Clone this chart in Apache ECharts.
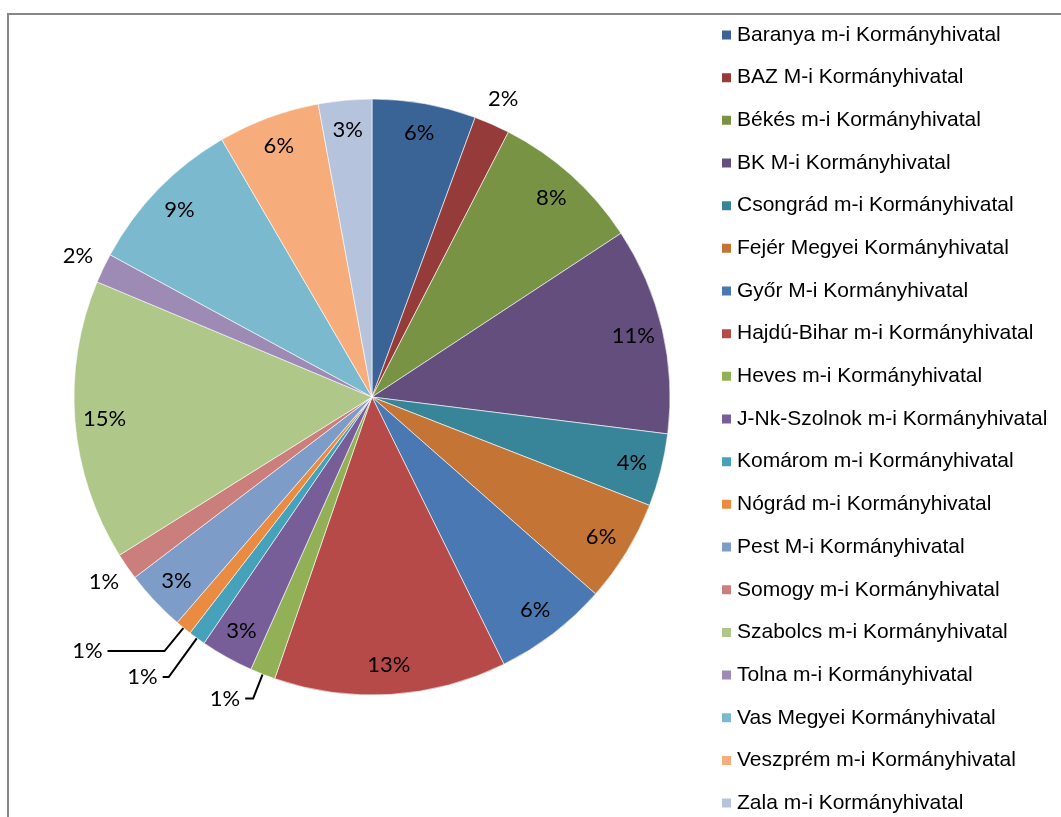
<!DOCTYPE html>
<html>
<head>
<meta charset="utf-8">
<script src="https://cdn.jsdelivr.net/npm/echarts@6/dist/echarts.min.js"></script>
<style>
  html, body { margin: 0; padding: 0; background: #fff; }
  #main { width: 1061px; height: 817px; }
</style>
</head>
<body>
<div id="main"></div>
<script>
'use strict'
// kormányhivatalok megoszlása - pie chart

var names = ['Baranya m-i Kormányhivatal', 'BAZ M-i Kormányhivatal', 'Békés m-i Kormányhivatal',
    'BK M-i Kormányhivatal', 'Csongrád m-i Kormányhivatal', 'Fejér Megyei Kormányhivatal',
    'Győr M-i Kormányhivatal', 'Hajdú-Bihar m-i Kormányhivatal', 'Heves m-i Kormányhivatal',
    'J-Nk-Szolnok m-i Kormányhivatal', 'Komárom m-i Kormányhivatal', 'Nógrád m-i Kormányhivatal',
    'Pest M-i Kormányhivatal', 'Somogy m-i Kormányhivatal', 'Szabolcs m-i Kormányhivatal',
    'Tolna m-i Kormányhivatal', 'Vas Megyei Kormányhivatal', 'Veszprém m-i Kormányhivatal',
    'Zala m-i Kormányhivatal'];

var values = [5.63, 1.94, 8.18, 11.24, 3.95, 5.57, 6.21, 12.6, 1.37, 2.87,
    0.93, 0.88, 3.31, 1.45, 15.22, 1.61, 8.68, 5.52, 2.89];

var colors = ['#3B6496', '#953C3B', '#789343', '#634E7E', '#38859A', '#C47535',
    '#4A78B2', '#B64A48', '#92B055', '#785E99', '#46A2BA', '#E98C42',
    '#7E9CC8', '#CB7F7D', '#AFC788', '#9D8BB5', '#7BBACE', '#F7AC7B', '#B6C3DD'];

// labels just outside the rim (no leader line)
var rimLabels = ['BAZ M-i Kormányhivatal', 'Tolna m-i Kormányhivatal', 'Somogy m-i Kormányhivatal'];

// labels with leader lines: [length, length2]
var leaderLabels = {
    'Heves m-i Kormányhivatal': [26, 8],
    'Komárom m-i Kormányhivatal': [48, 6],
    'Nógrád m-i Kormányhivatal': [30, 57]
};

var center = [372, 397];
var R = 298;
var labelFont = { fontFamily: 'Lato', fontSize: 22, color: '#000' };

function pct(p) {
    return Math.round(p.percent) + '%';
}

var mainData = names.map(function (n, i) {
    var item = { name: n, value: values[i], itemStyle: { color: colors[i] } };
    if (leaderLabels[n]) {
        item.label = { show: true, position: 'outside' };
        item.labelLine = { show: true, length: leaderLabels[n][0], length2: leaderLabels[n][1] };
    }
    return item;
});

var innerData = names.map(function (n, i) {
    var inside = rimLabels.indexOf(n) < 0 && !leaderLabels[n];
    return { name: n, value: values[i], label: { show: inside } };
});

var rimData = names.map(function (n, i) {
    return { name: n, value: values[i], label: { show: rimLabels.indexOf(n) >= 0 } };
});

var option = {
    animation: false,
    backgroundColor: '#fff',
    graphic: [{
        type: 'rect',
        shape: { x: 8, y: 14, width: 1200, height: 900 },
        style: { fill: 'none', stroke: '#878787', lineWidth: 2 },
        silent: true
    }],
    legend: {
        orient: 'vertical',
        left: 720,
        top: 24.5,
        height: 792,
        padding: 0,
        itemWidth: 11,
        itemHeight: 11,
        itemGap: 21.67,
        icon: 'rect',
        data: names,
        textStyle: { fontFamily: 'Liberation Sans', fontSize: 21, lineHeight: 21, color: '#000' }
    },
    series: [
        {
            type: 'pie',
            center: center,
            radius: R,
            startAngle: 90,
            clockwise: true,
            avoidLabelOverlap: false,
            itemStyle: { borderColor: '#fff', borderWidth: 0.6 },
            label: Object.assign({ show: false, formatter: pct }, labelFont),
            labelLine: { lineStyle: { color: '#000', width: 2 }, smooth: false },
            emphasis: { disabled: true },
            data: mainData
        },
        {
            type: 'pie',
            center: center,
            radius: [R * 0.78, R],
            startAngle: 90,
            silent: true,
            legendHoverLink: false,
            avoidLabelOverlap: false,
            itemStyle: { color: 'rgba(0,0,0,0)' },
            label: Object.assign({ position: 'inside', formatter: pct }, labelFont),
            labelLine: { show: false },
            data: innerData
        },
        {
            type: 'pie',
            center: center,
            radius: [R, R + 50],
            startAngle: 90,
            silent: true,
            legendHoverLink: false,
            avoidLabelOverlap: false,
            itemStyle: { color: 'rgba(0,0,0,0)' },
            label: Object.assign({ position: 'inside', formatter: pct }, labelFont),
            labelLine: { show: false },
            data: rimData
        }
    ]
};

var myChart = echarts.init(document.getElementById('main'));
myChart.setOption(option);
</script>
</body>
</html>
